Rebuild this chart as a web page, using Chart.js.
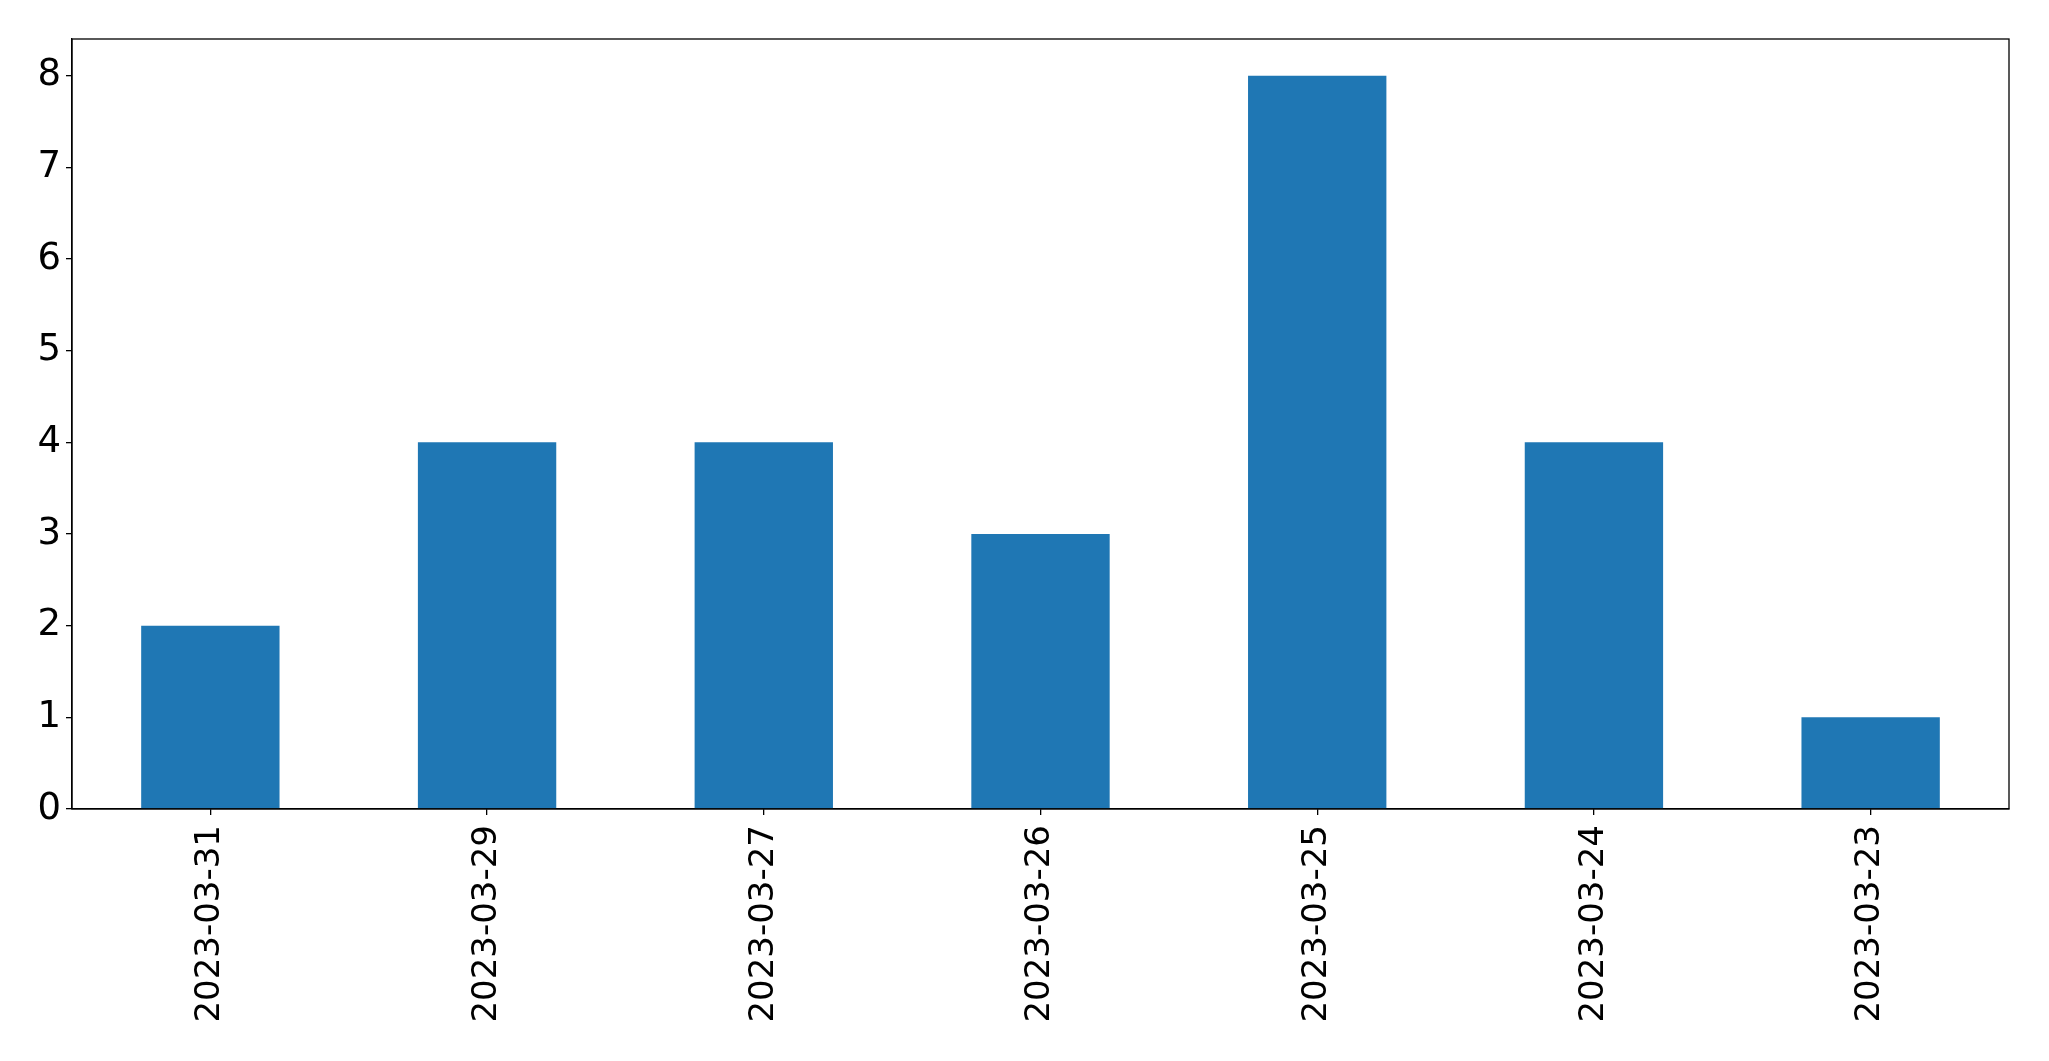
<!DOCTYPE html>
<html>
<head>
<meta charset="utf-8">
<script src="https://cdn.jsdelivr.net/npm/chart.js@4/dist/chart.umd.min.js"></script>
<style>
  html, body { margin: 0; padding: 0; background: #fff; }
  canvas { display: block; }
</style>
</head>
<body>
<canvas id="chart" width="2049" height="1061"></canvas>
<script>
// 날짜별 건수 (원본 순서 그대로)
const dates = ['2023-03-31', '2023-03-29', '2023-03-27', '2023-03-26', '2023-03-25', '2023-03-24', '2023-03-23'];
const counts = [2, 4, 4, 3, 8, 4, 1];
const yTicks = [0, 1, 2, 3, 4, 5, 6, 7, 8];

// plot 영역 테두리 (위/오른쪽 포함)
const frame = {
    id: 'frame',
    afterDraw(chart) {
        const { ctx, chartArea: a } = chart;
        ctx.save();
        ctx.strokeStyle = '#000';
        ctx.lineWidth = 1.3;
        ctx.strokeRect(a.left, a.top, a.right - a.left, a.bottom - a.top);
        ctx.restore();
    }
};

new Chart(document.getElementById('chart'), {
    type: 'bar',
    data: {
        labels: dates,
        datasets: [{
            data: counts,
            backgroundColor: '#1f77b4',
            borderWidth: 0,
            categoryPercentage: 1.0,
            barPercentage: 0.5
        }]
    },
    options: {
        responsive: false,
        animation: false,
        layout: { padding: { top: 39, right: 40, left: 0, bottom: 0 } },
        plugins: {
            legend: { display: false },
            tooltip: { enabled: false }
        },
        scales: {
            x: {
                offset: true,
                // 눈금은 막대 중앙에
                grid: { display: true, offset: false, drawOnChartArea: false, drawTicks: true, tickLength: 6, color: '#000', lineWidth: 1.3 },
                border: { display: true, color: '#000', width: 1.3 },
                ticks: { color: '#000', font: { family: 'DejaVu Sans', size: 34 }, minRotation: 90, maxRotation: 90, padding: 10 },
                afterFit(scale) { scale.height = 1061 - 809; }
            },
            y: {
                min: 0,
                max: 8.4,
                grid: { display: true, drawOnChartArea: false, drawTicks: true, tickLength: 6, color: '#000', lineWidth: 1.3 },
                border: { display: true, color: '#000', width: 1.3 },
                ticks: { color: '#000', font: { family: 'DejaVu Sans', size: 37 }, stepSize: 1, padding: 5 },
                afterBuildTicks(scale) {
                    scale.ticks = yTicks.map(v => ({ value: v }));
                },
                afterFit(scale) { scale.width = 72; }
            }
        }
    },
    plugins: [frame]
});
</script>
</body>
</html>
